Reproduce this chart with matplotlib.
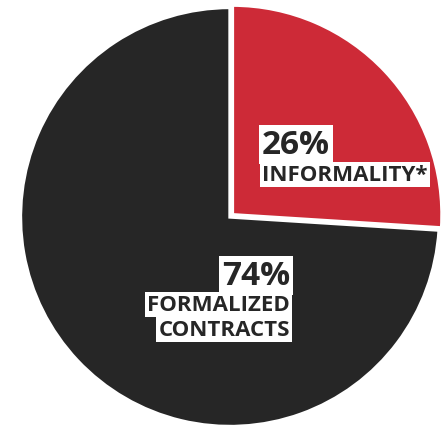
import matplotlib
matplotlib.use("Agg")
import matplotlib.pyplot as plt

# Share of workers by contract type
labels = ["INFORMALITY*", "FORMALIZED\nCONTRACTS"]
values = [26, 74]
colors = ["#CD2A37", "#262626"]

W, H = 445, 427
fig = plt.figure(figsize=(W / 100, H / 100), dpi=100)
ax = fig.add_axes([0, 0, 1, 1])

# pie centre and radius in pixels
cx, cy, r = 230.0, 218.0, 209.5

ax.pie(values, colors=colors, startangle=90, counterclock=False,
       explode=[0.016, 0.0],
       wedgeprops=dict(edgecolor="white", linewidth=2.4, joinstyle="miter"))
ax.set_xlim(-cx / r, (W - cx) / r)
ax.set_ylim(-(H - cy) / r, cy / r)
ax.set_aspect("auto")
ax.axis("off")

box = dict(boxstyle="square,pad=0.1", facecolor="white", edgecolor="none")
txt = dict(color="#262626", fontweight="bold", family="Open Sans")


def fx(px):
    return px / W


def fy(py):
    return 1 - py / H


# informality label (left aligned)
fig.text(fx(262), fy(154), f"{values[0]}%", fontsize=24, ha="left",
         va="baseline", bbox=box, **txt)
fig.text(fx(262), fy(181), labels[0], fontsize=16, ha="left",
         va="baseline", bbox=box, **txt)

# formalized label (right aligned, one box per line)
fig.text(fx(290), fy(285), f"{values[1]}%", fontsize=24, ha="right",
         va="baseline", bbox=box, **txt)
line1, line2 = labels[1].split("\n")
fig.text(fx(290), fy(311), line1, fontsize=16, ha="right",
         va="baseline", bbox=box, **txt)
fig.text(fx(290), fy(336), line2, fontsize=16, ha="right",
         va="baseline", bbox=box, **txt)

fig.savefig("out.png", dpi=100, facecolor="white")
